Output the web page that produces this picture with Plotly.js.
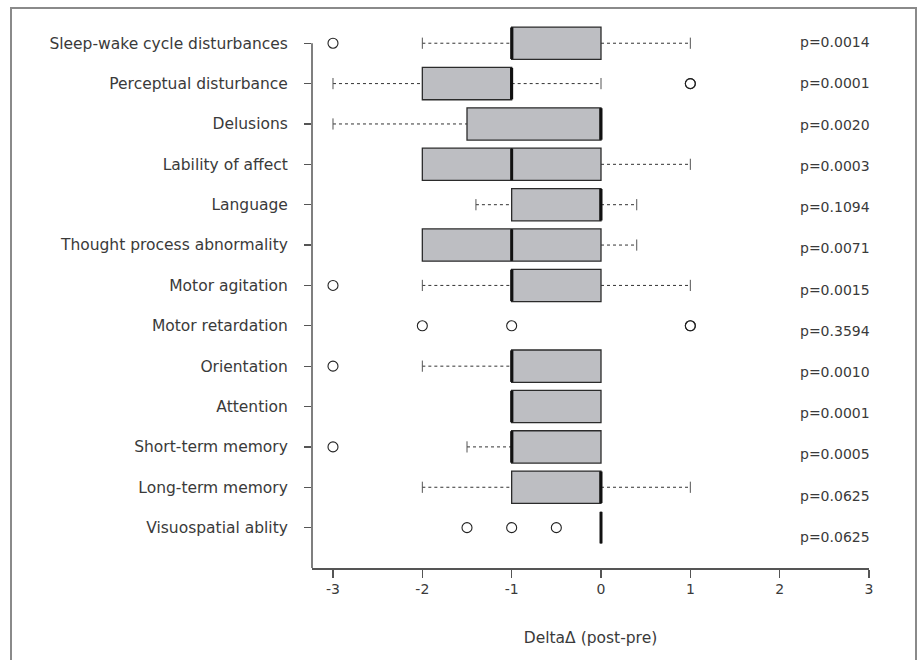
<!DOCTYPE html>
<html>
<head>
<meta charset="utf-8">
<script src="https://cdn.plot.ly/plotly-3.0.1.min.js"></script>
<style>html,body{margin:0;padding:0;background:#fff;}#chart{width:919px;height:660px;}</style>
</head>
<body>
<div id="chart"></div>
<script>
// Categories, top to bottom
const categories = [
  "Sleep-wake cycle disturbances",
  "Perceptual disturbance",
  "Delusions",
  "Lability of affect",
  "Language",
  "Thought process abnormality",
  "Motor agitation",
  "Motor retardation",
  "Orientation",
  "Attention",
  "Short-term memory",
  "Long-term memory",
  "Visuospatial ablity"
];
// Box statistics (null = no box drawn)
const lowWhisker = [-2, -3, -3, -2, -1.4, -2, -2, null, -2, -1, -1.5, -2, 0];
const q1         = [-1, -2, -1.5, -2, -1, -2, -1, null, -1, -1, -1, -1, 0];
const median     = [-1, -1, 0, -1, 0, -1, -1, null, -1, -1, -1, 0, 0];
const q3         = [0, -1, 0, 0, 0, 0, 0, null, 0, 0, 0, 0, 0];
const highWhisker= [1, 0, 0, 1, 0.4, 0.4, 1, null, 0, 0, 0, 1, 0];
// Outlying values per category
const outliers = [
  [-3],
  [1, 1],
  [],
  [],
  [],
  [],
  [-3],
  [-2, -1, 1, 1],
  [-3],
  [],
  [-3],
  [],
  [-1.5, -1, -0.5]
];
const pValues = ["p=0.0014","p=0.0001","p=0.0020","p=0.0003","p=0.1094","p=0.0071","p=0.0015","p=0.3594","p=0.0010","p=0.0001","p=0.0005","p=0.0625","p=0.0625"];
const xTicks = [-3, -2, -1, 0, 1, 2, 3];

const FONT = "DejaVu Sans, Open Sans, sans-serif";
const TXT = "#3a3a3a";
const FS = 14;

// Boxes
const bi = categories.map((c,i)=>i).filter(i => q1[i] !== null);
const boxTrace = {
  type: "box", orientation: "h",
  y: bi.map(i => categories[i]),
  q1: bi.map(i => q1[i]),
  median: bi.map(i => median[i]),
  q3: bi.map(i => q3[i]),
  lowerfence: bi.map(i => q1[i]),
  upperfence: bi.map(i => q3[i]),
  width: 0.8, whiskerwidth: 0, boxpoints: false,
  fillcolor: "#bdbec2",
  line: {color: "#2b2b2b", width: 1.3},
  hoverinfo: "skip", showlegend: false
};

// Whiskers (dashed)
const wx = [], wy = [], cx = [], cy = [];
bi.forEach(i => {
  if (lowWhisker[i] < q1[i]) {
    wx.push(lowWhisker[i], q1[i], null); wy.push(categories[i], categories[i], null);
    cx.push(lowWhisker[i]); cy.push(categories[i]);
  }
  if (highWhisker[i] > q3[i]) {
    wx.push(q3[i], highWhisker[i], null); wy.push(categories[i], categories[i], null);
    cx.push(highWhisker[i]); cy.push(categories[i]);
  }
});
const whiskerTrace = {
  type: "scatter", mode: "lines", x: wx, y: wy,
  line: {color: "#333", width: 1, dash: "3px,3px"},
  hoverinfo: "skip", showlegend: false, connectgaps: false
};
const capTrace = {
  type: "scatter", mode: "markers", x: cx, y: cy,
  marker: {symbol: "line-ns-open", size: 8, color: "#555", line: {color: "#555", width: 1}},
  hoverinfo: "skip", showlegend: false
};
const medianTrace = {
  type: "scatter", mode: "markers",
  x: bi.map(i => median[i]), y: bi.map(i => categories[i]),
  marker: {symbol: "line-ns-open", size: 22.5, color: "#111", line: {color: "#111", width: 3}},
  hoverinfo: "skip", showlegend: false
};
const ox = [], oy = [];
outliers.forEach((arr, i) => arr.forEach(v => { ox.push(v); oy.push(categories[i]); }));
const outlierTrace = {
  type: "scatter", mode: "markers", x: ox, y: oy,
  marker: {symbol: "circle-open", size: 10, color: "#222", line: {color: "#222", width: 1.1}},
  hoverinfo: "skip", showlegend: false
};

const annotations = pValues.map((p, i) => ({
  xref: "x", yref: "y", x: 2.2, y: -0.025 + i * 1.021,
  text: p, showarrow: false, xanchor: "left", yanchor: "middle",
  font: {family: FONT, size: FS, color: TXT}
}));

const layout = {
  width: 919, height: 660,
  margin: {l: 312, r: 50, t: 19, b: 92},
  paper_bgcolor: "#fff", plot_bgcolor: "#fff",
  showlegend: false,
  xaxis: {
    range: [-3.235, 3], tickvals: xTicks, ticktext: xTicks.map(String),
    showgrid: false, zeroline: false,
    showline: true, linecolor: "#555", linewidth: 1.5,
    ticks: "outside", ticklen: 8, tickcolor: "#555", tickwidth: 1.2,
    tickfont: {family: FONT, size: FS, color: TXT},
    title: {text: "DeltaΔ (post-pre)", font: {family: FONT, size: 15.5, color: TXT}, standoff: 36}
  },
  yaxis: {
    type: "category", categoryorder: "array", categoryarray: categories,
    range: [13, -0.6],
    showgrid: false, zeroline: false, showline: false,
    ticks: "outside", ticklen: 7, tickcolor: "#555", tickwidth: 1.2,
    ticklabelstandoff: 13,
    tickfont: {family: FONT, size: 15.5, color: TXT}
  },
  shapes: [
    {type: "line", xref: "paper", yref: "y", x0: 0, x1: 0, y0: 0, y1: 13,
     line: {color: "#555", width: 1.5}},
    {type: "rect", xref: "paper", yref: "paper", layer: "below",
     x0: (11 - 312) / 557, x1: (916 - 312) / 557,
     y0: -0.3, y1: (660 - 92 - 8) / 549,
     line: {color: "#8a8a8a", width: 2}}
  ],
  annotations: annotations
};

Plotly.newPlot("chart", [boxTrace, whiskerTrace, capTrace, medianTrace, outlierTrace], layout, {staticPlot: true});
</script>
</body>
</html>
